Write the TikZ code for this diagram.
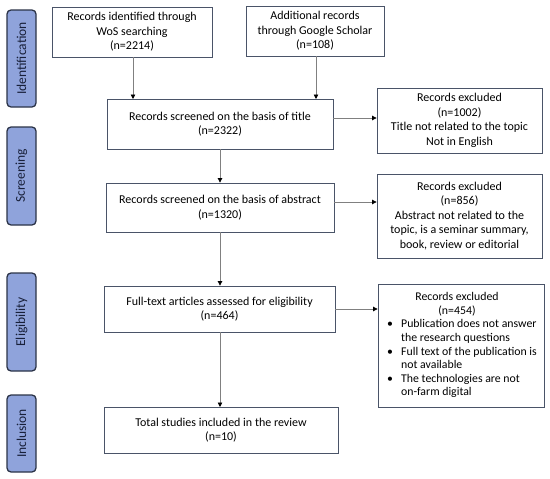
\documentclass[tikz,border=0pt]{standalone}
\usepackage{fontspec}
\setmainfont{Carlito}
\usetikzlibrary{arrows.meta}
\definecolor{boxline}{HTML}{4A5468}
\definecolor{sidefill}{HTML}{8FA3DB}
\definecolor{sideline}{HTML}{2B3347}
\definecolor{sidetextc}{HTML}{18203A}
\definecolor{arrowgrey}{HTML}{808080}
\begin{document}
\begin{tikzpicture}[x=1pt,y=-1pt,
  font=\fontsize{12}{14.5}\selectfont,
  flowbox/.style={draw=boxline,line width=0.8pt,rectangle,inner sep=0pt,align=center,fill=white,
     font=\fontsize{12}{14.5}\selectfont},
  sidebox/.style={draw=sideline,line width=1.3pt,fill=sidefill,rounded corners=4pt,inner sep=0pt,
     minimum width=29pt},
  sidetext/.style={rotate=90,font=\fontsize{13.5}{15}\selectfont,text=sidetextc},
  flowarrow/.style={draw=arrowgrey,line width=0.7pt,-{Triangle[length=4.5pt,width=4.5pt,color=black]}}
]
\useasboundingbox (0,0) rectangle (550,479);
% side labels
\node[sidebox,minimum height=97pt] (sid) at (21.5,58.5) {};
\node[sidetext] (sidt) at (sid.center) {Identification};
\node[sidebox,minimum height=98pt] (sscr) at (21.5,176) {};
\node[sidetext] (sscrt) at (sscr.center) {Screening};
\node[sidebox,minimum height=98pt] (selig) at (21.5,322) {};
\node[sidetext] (seligt) at (selig.center) {Eligibility};
\node[sidebox,minimum height=77pt] (sinc) at (21.5,433.5) {};
\node[sidetext] (sinct) at (sinc.center) {Inclusion};
% flow boxes
\node[flowbox,minimum width=160pt,minimum height=50pt] (wos) at (132,32)
  {Records identified through\\WoS searching\\(n=2214)};
\node[flowbox,minimum width=138pt,minimum height=50pt] (gs) at (315,31)
  {Additional records\\through Google Scholar\\(n=108)};
\node[flowbox,minimum width=226pt,minimum height=50pt] (title) at (220,124)
  {Records screened on the basis of title\\(n=2322)};
\node[flowbox,minimum width=165pt,minimum height=65pt] (ex1) at (459.5,120.5)
  {Records excluded\\(n=1002)\\Title not related to the topic\\Not in English};
\node[flowbox,minimum width=228pt,minimum height=49pt] (abs) at (220,207.5)
  {Records screened on the basis of abstract\\(n=1320)};
\node[flowbox,minimum width=165pt,minimum height=84pt] (ex2) at (459.5,216)
  {Records excluded\\(n=856)\\Abstract not related to the\\topic, is a seminar summary,\\book, review or editorial};
\node[flowbox,minimum width=231pt,minimum height=46pt] (full) at (219.5,309)
  {Full-text articles assessed for eligibility\\(n=464)};
\node[flowbox,minimum width=166pt,minimum height=123pt,font=\fontsize{11.8}{14.1}\selectfont] (ex3) at (461,345.5)
  {\begin{tabular}{@{\hspace{2pt}}p{8pt}@{\hspace{6pt}}l@{}}
   \multicolumn{2}{@{}c@{}}{\hspace{-8pt}Records excluded}\\[-0.5pt]
   \multicolumn{2}{@{}c@{}}{\hspace{-8pt}(n=454)}\\[-0.5pt]
   \textbullet & Publication does not answer\\[-0.5pt]
               & the research questions\\[-0.5pt]
   \textbullet & Full text of the publication is\\[-0.5pt]
               & not available\\[-0.5pt]
   \textbullet & The technologies are not\\[-0.5pt]
               & on-farm digital
   \end{tabular}};
\node[flowbox,minimum width=234pt,minimum height=46pt] (tot) at (221,430)
  {Total studies included in the review\\(n=10)};
% arrows
\coordinate (wosin) at (133,99);
\coordinate (gsin) at (316,99);
\draw[flowarrow] (wos.south -| wosin) -- (wosin);
\draw[flowarrow] (gs.south -| gsin) -- (gsin);
\draw[flowarrow] (title.south) -- (abs.north);
\draw[flowarrow] (abs.south) -- (abs.south |- full.north);
\coordinate (fullout) at (220,332);
\coordinate (totin) at (220,407);
\draw[flowarrow] (fullout) -- (totin);
\coordinate (t1) at (333,118);
\draw[flowarrow] (t1) -- (t1 -| ex1.west);
\coordinate (t2) at (334,202);
\draw[flowarrow] (t2) -- (t2 -| ex2.west);
\draw[flowarrow] (full.east) -- (full.east -| ex3.west);
\end{tikzpicture}
\end{document}
